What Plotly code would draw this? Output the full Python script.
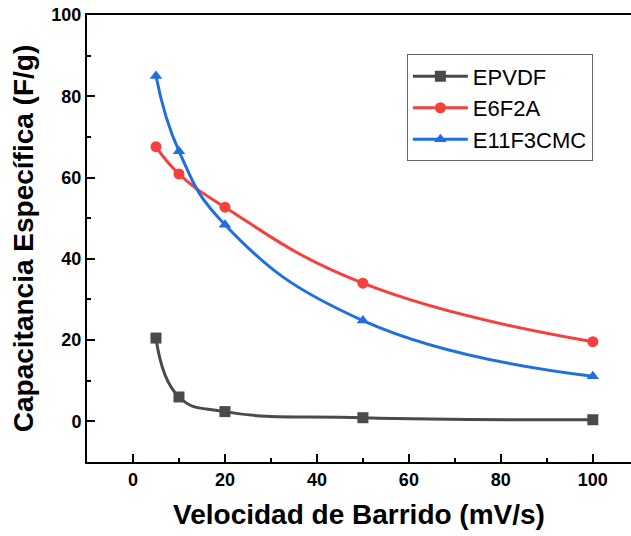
import plotly.graph_objects as go

scan_rate = [5, 10, 20, 50, 100]
epvdf = [20.5, 6.0, 2.4, 0.9, 0.4]
e6f2a = [67.6, 60.9, 52.7, 34.0, 19.6]
e11f3cmc = [85.0, 66.5, 48.4, 24.8, 11.1]

series = [
    ("EPVDF", epvdf, "#4a4a4a", "square"),
    ("E6F2A", e6f2a, "#f5403d", "circle"),
    ("E11F3CMC", e11f3cmc, "#1f6fe0", "triangle-up"),
]

fig = go.Figure()
for name, vals, color, sym in series:
    fig.add_trace(go.Scatter(
        x=scan_rate, y=vals, name=name, mode="lines+markers",
        line=dict(color=color, width=3, shape="spline", smoothing=1.3),
        marker=dict(symbol=sym, size=11, color=color),
    ))

font_family = "Liberation Sans, Arial, sans-serif"
fig.update_layout(
    width=631, height=536,
    margin=dict(l=87, r=0, t=15, b=74),
    paper_bgcolor="white", plot_bgcolor="white",
    font=dict(family=font_family, color="black"),
    showlegend=True,
    legend=dict(
        x=0.588, y=0.912, xanchor="left", yanchor="top",
        bordercolor="#666666", borderwidth=1, bgcolor="white",
        font=dict(size=22, family=font_family, color="black"),
        itemwidth=55, tracegroupgap=0,
    ),
    xaxis=dict(
        range=[-10, 108.3], tickvals=[0, 20, 40, 60, 80, 100],
        ticks="inside", ticklen=8, tickwidth=1.5, tickcolor="black",
        minor=dict(dtick=10, tick0=0, ticks="inside", ticklen=4, tickcolor="black", tickwidth=1.5),
        showline=True, linecolor="black", linewidth=2, mirror=True,
        showgrid=False, zeroline=False,
        tickfont=dict(size=18, family=font_family, weight="bold"),
        title=dict(text="<b>Velocidad de Barrido (mV/s)</b>", font=dict(size=28), standoff=16),
    ),
    yaxis=dict(
        range=[-10, 100], tickvals=[0, 20, 40, 60, 80, 100],
        ticks="inside", ticklen=8, tickwidth=1.5, tickcolor="black",
        minor=dict(dtick=10, tick0=0, ticks="inside", ticklen=4, tickcolor="black", tickwidth=1.5),
        showline=True, linecolor="black", linewidth=2, mirror=False,
        showgrid=False, zeroline=False,
        tickfont=dict(size=18, family=font_family, weight="bold"),
        title=dict(text="<b>Capacitancia Específica (F/g)</b>", font=dict(size=28), standoff=10),
    ),
)

fig.write_html("out.html")
